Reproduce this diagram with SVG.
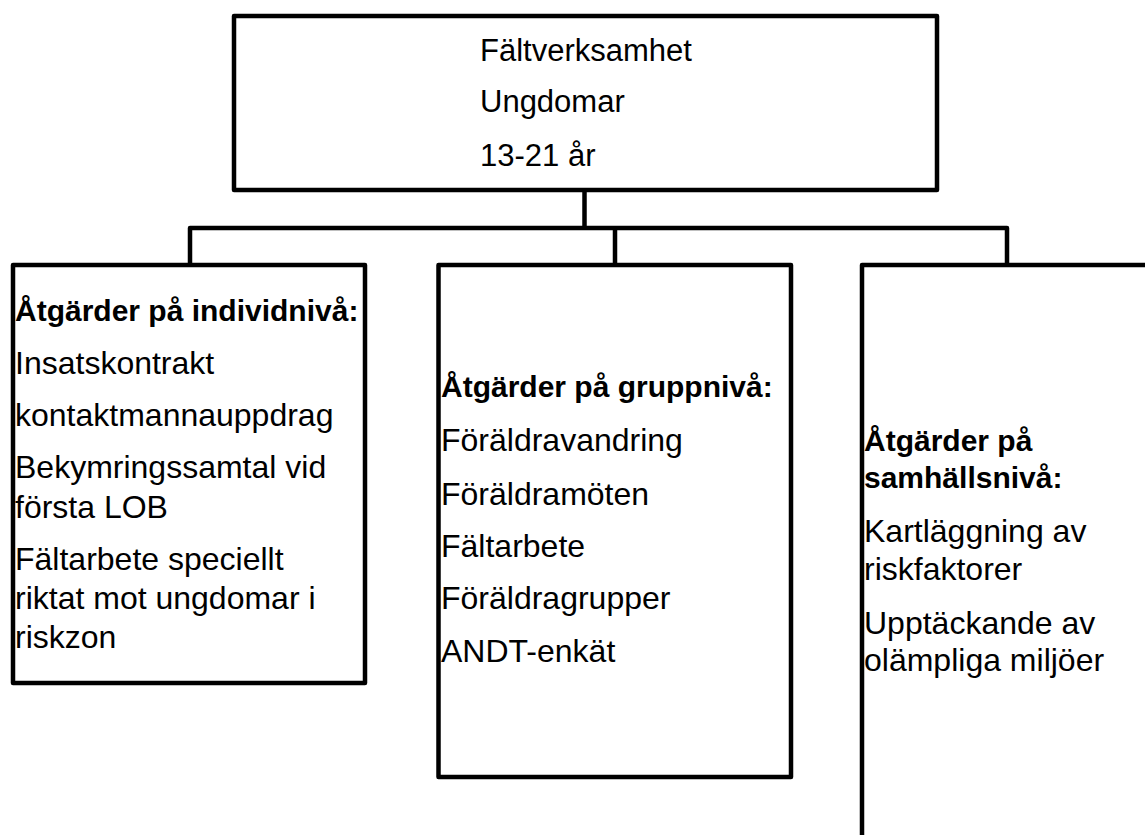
<svg xmlns="http://www.w3.org/2000/svg" width="1145" height="835" viewBox="0 0 1145 835">
<style>
.box{fill:#fff;stroke:#000;stroke-width:4.5;stroke-linejoin:round}
.conn{fill:none;stroke:#000;stroke-width:4.5;stroke-linejoin:round}
text{font-family:"Liberation Sans",Arial,sans-serif;font-size:32px;fill:#000}
.t{font-size:31px}
.b{font-weight:bold;font-size:30px}
</style>
<rect width="1145" height="835" fill="#fff"/>
<g id="connectors">
<path class="conn" d="M584.5,190 V228 M190,265 V228 H1007 V265 M615,228 V265"/>
</g>
<g id="top">
<rect class="box" x="234" y="16" width="703" height="174"/>
<text class="t" x="480" y="61">Fältverksamhet</text>
<text class="t" x="480" y="112">Ungdomar</text>
<text class="t" x="480" y="166">13-21 år</text>
</g>
<g id="individ">
<rect class="box" x="13" y="265" width="352" height="418"/>
<text class="b" x="15" y="321">Åtgärder på individnivå:</text>
<text x="15" y="374">Insatskontrakt</text>
<text x="15" y="426">kontaktmannauppdrag</text>
<text x="15" y="478">Bekymringssamtal vid</text>
<text x="15" y="518">första LOB</text>
<text x="15" y="570">Fältarbete speciellt</text>
<text x="15" y="609">riktat mot ungdomar i</text>
<text x="15" y="648">riskzon</text>
</g>
<g id="grupp">
<rect class="box" x="438.5" y="265" width="352.5" height="512"/>
<text class="b" x="441" y="397">Åtgärder på gruppnivå:</text>
<text x="441" y="451">Föräldravandring</text>
<text x="441" y="505">Föräldramöten</text>
<text x="441" y="557">Fältarbete</text>
<text x="441" y="609">Föräldragrupper</text>
<text x="441" y="662">ANDT-enkät</text>
</g>
<g id="samhalle">
<rect class="box" x="862" y="265" width="400" height="700"/>
<text class="b" x="864" y="451">Åtgärder på</text>
<text class="b" x="864" y="488">samhällsnivå:</text>
<text x="864" y="542">Kartläggning av</text>
<text x="864" y="580">riskfaktorer</text>
<text x="864" y="634">Upptäckande av</text>
<text x="864" y="671">olämpliga miljöer</text>
</g>
</svg>
